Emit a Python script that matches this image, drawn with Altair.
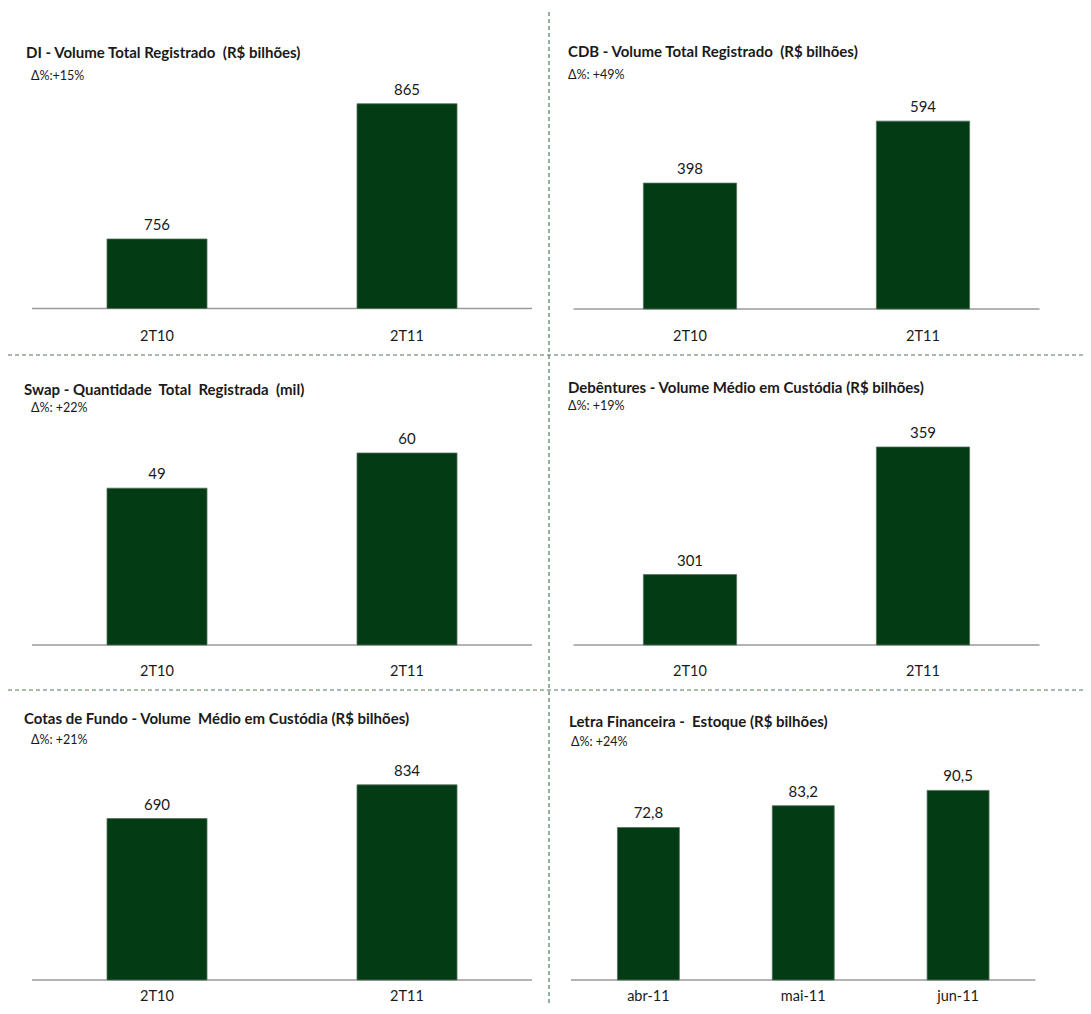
import altair as alt
import pandas as pd

# ---------------- data ----------------
di_cat = ["2T10", "2T11"]
di_val = [756, 865]
di_lab = ["756", "865"]

cdb_cat = ["2T10", "2T11"]
cdb_val = [398, 594]
cdb_lab = ["398", "594"]

swap_cat = ["2T10", "2T11"]
swap_val = [49, 60]
swap_lab = ["49", "60"]

deb_cat = ["2T10", "2T11"]
deb_val = [301, 359]
deb_lab = ["301", "359"]

cotas_cat = ["2T10", "2T11"]
cotas_val = [690, 834]
cotas_lab = ["690", "834"]

lf_cat = ["abr-11", "mai-11", "jun-11"]
lf_val = [72.8, 83.2, 90.5]
lf_lab = ["72,8", "83,2", "90,5"]

titles = [
    "DI - Volume Total Registrado\u00a0 (R$ bilhões)",
    "CDB - Volume Total Registrado\u00a0 (R$ bilhões)",
    "Swap - Quantidade\u00a0 Total\u00a0 Registrada\u00a0 (mil)",
    "Debêntures - Volume Médio em Custódia (R$ bilhões)",
    "Cotas de Fundo - Volume\u00a0 Médio em Custódia (R$ bilhões)",
    "Letra Financeira -\u00a0 Estoque (R$ bilhões)",
]
deltas = ["Δ%:+15%", "Δ%: +49%", "Δ%: +22%", "Δ%: +19%", "Δ%: +21%", "Δ%: +24%"]

FONT = "Lato"
BAR = "#033c14"
TXT = "#1a1a1a"


def panel(cats, vals, labs, title, delta, x_range, y_domain, y_range,
          label_y, title_xy, delta_xy):
    df = pd.DataFrame({"cat": cats, "val": vals, "lab": labs,
                       "base": [y_domain[0]] * len(cats)})
    xs = alt.Scale(domain=cats, range=x_range, paddingInner=0.6, paddingOuter=0.3)
    ys = alt.Scale(domain=y_domain, range=y_range, zero=False, nice=False)
    x = alt.X("cat:N", scale=xs, axis=None, sort=cats)
    y = alt.Y("val:Q", scale=ys, axis=None)
    base = alt.Chart(df)
    bars = base.mark_bar(color=BAR, stroke="#52705a", strokeWidth=0.8).encode(
        x=x, y=y, y2="base:Q"
    )
    vlab = base.mark_text(font=FONT, fontSize=15, color=TXT, baseline="alphabetic", dy=-9).encode(
        x=x, y=y, text="lab:N"
    )
    bdf = pd.DataFrame({"base": [y_domain[0]]})
    axis_line = alt.Chart(bdf).mark_rule(color="#9a9a9a", strokeWidth=1.5).encode(
        x=alt.value(x_range[0]), x2=alt.value(x_range[1]),
        y=alt.Y("base:Q", scale=ys, axis=None)
    )
    xlab = base.mark_text(font=FONT, fontSize=14.5, color=TXT, baseline="middle").encode(
        x=x, y=alt.value(label_y), text="cat:N"
    )
    tdf = pd.DataFrame({"t": [title], "d": [delta]})
    ttl = alt.Chart(tdf).mark_text(font=FONT, fontSize=15, fontWeight="bold", color=TXT,
                                   align="left", baseline="middle").encode(
        x=alt.value(title_xy[0]), y=alt.value(title_xy[1]), text="t:N"
    )
    dlt = alt.Chart(tdf).mark_text(font=FONT, fontSize=12.5, color=TXT,
                                   align="left", baseline="middle").encode(
        x=alt.value(delta_xy[0]), y=alt.value(delta_xy[1]), text="d:N"
    )
    return [axis_line, bars, vlab, xlab, ttl, dlt]


LEFT = [24, 524]
RIGHT = [565.5, 1031.5]

layers = []
layers += panel(di_cat, di_val, di_lab, titles[0], deltas[0], LEFT, [700, 900], [300.5, 52.3],
                329, (18, 45), (23, 67.5))
layers += panel(cdb_cat, cdb_val, cdb_lab, titles[1], deltas[1], RIGHT, [0, 700], [301, 79.6],
                329, (560, 44), (560, 66.5))
layers += panel(swap_cat, swap_val, swap_lab, titles[2], deltas[2], LEFT, [0, 70], [637, 413],
                664, (16, 382), (23, 400))
layers += panel(deb_cat, deb_val, deb_lab, titles[3], deltas[3], RIGHT, [269, 380], [637, 392.8],
                664, (560, 380), (560, 398))
layers += panel(cotas_cat, cotas_val, cotas_lab, titles[4], deltas[4], LEFT, [0, 1000], [972, 738],
                989, (16, 711), (23, 732))
layers += panel(lf_cat, lf_val, lf_lab, titles[5], deltas[5], [563, 1027.5], [0, 100], [972, 762.5],
                989, (561, 714), (563, 734))

DASH = "#4f7a5c"
one = pd.DataFrame({"k": [0]})
vline = alt.Chart(one).mark_rule(color=DASH, strokeWidth=1.2, strokeDash=[4, 3]).encode(
    x=alt.value(541), y=alt.value(4), y2=alt.value(998)
)
hline1 = alt.Chart(one).mark_rule(color=DASH, strokeWidth=1.2, strokeDash=[4, 3]).encode(
    x=alt.value(0), x2=alt.value(1075), y=alt.value(347)
)
hline2 = alt.Chart(one).mark_rule(color=DASH, strokeWidth=1.2, strokeDash=[4, 3]).encode(
    x=alt.value(0), x2=alt.value(1075), y=alt.value(682)
)

chart = alt.layer(vline, hline1, hline2, *layers).resolve_scale(
    x="independent", y="independent"
).properties(
    width=1075, height=998, padding=0,
    autosize=alt.AutoSizeParams(type="none"),
).configure_view(stroke=None)

chart.save("out.html", embed_options={"renderer": "svg", "actions": False})
